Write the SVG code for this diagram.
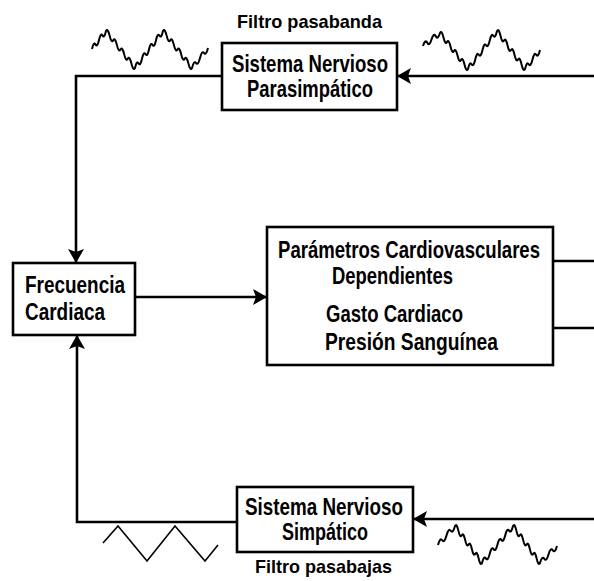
<svg xmlns="http://www.w3.org/2000/svg" width="594" height="581" viewBox="0 0 594 581">
  <style>
    .box { fill: #fff; stroke: #000; stroke-width: 2.6; }
    .lbl { font-family: "Liberation Sans", Arial, sans-serif; font-weight: bold; font-size: 24px; fill: #000; }
    .cap { font-family: "Liberation Sans", Arial, sans-serif; font-weight: bold; font-size: 19px; fill: #000; }
    .wire { fill: none; stroke: #000; stroke-width: 2.6; }
    .wave { fill: none; stroke: #000; stroke-width: 2; stroke-linejoin: round; }
    .tri { fill: none; stroke: #000; stroke-width: 1.6; }
  </style>
  <defs>
    <marker id="arrow" viewBox="0 0 14 16" refX="14" refY="8" markerWidth="14" markerHeight="16" markerUnits="userSpaceOnUse" orient="auto">
      <path d="M0,0 L14,8 L0,16 L3,8 z" fill="#000"/>
    </marker>
  </defs>
  <rect width="594" height="581" fill="#fff"/>

  <!-- connectors -->
  <g id="connectors">
    <path class="wire" d="M594,76 H397" marker-end="url(#arrow)"/>
    <path class="wire" d="M222,76 H76 V263" marker-end="url(#arrow)"/>
    <path class="wire" d="M135,297 H267" marker-end="url(#arrow)"/>
    <path class="wire" d="M237,522 H77 V335" marker-end="url(#arrow)"/>
    <path class="wire" d="M594,519 H413" marker-end="url(#arrow)"/>
    <path class="wire" d="M553,261 H594"/>
    <path class="wire" d="M553,328 H594"/>
  </g>

  <!-- signal sketches: slow triangle with fast ripple, and a plain triangle -->
  <g id="signals">
    <path class="wave" d="M92,49
      q1.75,-7.75 3.5,-4.5 t3.5,-4.5 t3.5,-4.5 t3.5,-4.5
      q1.8125,-3.1875 3.625,4.625 t3.625,4.625 t3.625,4.625 t3.625,4.625 t3.625,4.625 t3.625,4.625 t3.625,4.625 t3.625,4.625
      q1.75,-7.8125 3.5,-4.625 t3.5,-4.625 t3.5,-4.625 t3.5,-4.625 t3.5,-4.625 t3.5,-4.625 t3.5,-4.625 t3.5,-4.625
      q1.8125,-3.1875 3.625,4.625 t3.625,4.625 t3.625,4.625 t3.625,4.625 t3.625,4.625 t3.625,4.625 t3.625,4.625 t3.625,4.625
      q2,-8 4,-5 t4,-5 t4,-5 t4,-5"/>
    <path class="wave" d="M423,46
      q2.125,-7.125 4.25,-3.25 t4.25,-3.25 t4.25,-3.25 t4.25,-3.25
      q1.75,-3.25 3.5,4.5 t3.5,4.5 t3.5,4.5 t3.5,4.5 t3.5,4.5 t3.5,4.5 t3.5,4.5 t3.5,4.5
      q1.8125,-7.875 3.625,-4.75 t3.625,-4.75 t3.625,-4.75 t3.625,-4.75 t3.625,-4.75 t3.625,-4.75 t3.625,-4.75 t3.625,-4.75
      q1.75,-3.125 3.5,4.75 t3.5,4.75 t3.5,4.75 t3.5,4.75 t3.5,4.75 t3.5,4.75 t3.5,4.75 t3.5,4.75
      q1.875,-7.875 3.75,-4.75 t3.75,-4.75 t3.75,-4.75 t3.75,-4.75"/>
    <path class="wave" d="M438,545
      q2.125,-7.875 4.25,-4.75 t4.25,-4.75 t4.25,-4.75 t4.25,-4.75
      q1.6875,-3.1875 3.375,4.625 t3.375,4.625 t3.375,4.625 t3.375,4.625 t3.375,4.625 t3.375,4.625 t3.375,4.625 t3.375,4.625
      q1.9375,-7.8125 3.875,-4.625 t3.875,-4.625 t3.875,-4.625 t3.875,-4.625 t3.875,-4.625 t3.875,-4.625 t3.875,-4.625 t3.875,-4.625
      q1.6875,-3.1875 3.375,4.625 t3.375,4.625 t3.375,4.625 t3.375,4.625 t3.375,4.625 t3.375,4.625 t3.375,4.625 t3.375,4.625
      q2.125,-7.625 4.25,-4.25 t4.25,-4.25 t4.25,-4.25 t4.25,-4.25"/>
    <polyline class="tri" points="103,543 118,526 147,561 175,526 205,561 218,545"/>
  </g>

  <!-- parasympathetic branch -->
  <g id="parasimpatico">
    <text class="cap" x="237" y="28" textLength="145" lengthAdjust="spacingAndGlyphs">Filtro pasabanda</text>
    <rect class="box" x="222" y="43" width="175" height="67"/>
    <text class="lbl" x="232" y="72" textLength="156" lengthAdjust="spacingAndGlyphs">Sistema Nervioso</text>
    <text class="lbl" x="247" y="97" textLength="126" lengthAdjust="spacingAndGlyphs">Parasimpático</text>
  </g>

  <!-- heart rate -->
  <g id="frecuencia">
    <rect class="box" x="13" y="263" width="122" height="72"/>
    <text class="lbl" x="25" y="293" textLength="100" lengthAdjust="spacingAndGlyphs">Frecuencia</text>
    <text class="lbl" x="25" y="320" textLength="80" lengthAdjust="spacingAndGlyphs">Cardiaca</text>
  </g>

  <!-- dependent parameters -->
  <g id="parametros">
    <rect class="box" x="267" y="227" width="286" height="138"/>
    <text class="lbl" x="278" y="258" textLength="262" lengthAdjust="spacingAndGlyphs">Parámetros Cardiovasculares</text>
    <text class="lbl" x="332" y="284" textLength="121" lengthAdjust="spacingAndGlyphs">Dependientes</text>
    <text class="lbl" x="326" y="322" textLength="137" lengthAdjust="spacingAndGlyphs">Gasto Cardiaco</text>
    <text class="lbl" x="325" y="350" textLength="173" lengthAdjust="spacingAndGlyphs">Presión Sanguínea</text>
  </g>

  <!-- sympathetic branch -->
  <g id="simpatico">
    <rect class="box" x="237" y="487" width="176" height="65"/>
    <text class="lbl" x="245" y="515" textLength="158" lengthAdjust="spacingAndGlyphs">Sistema Nervioso</text>
    <text class="lbl" x="282" y="540" textLength="86" lengthAdjust="spacingAndGlyphs">Simpático</text>
    <text class="cap" x="255" y="573" textLength="137" lengthAdjust="spacingAndGlyphs">Filtro pasabajas</text>
  </g>
</svg>
